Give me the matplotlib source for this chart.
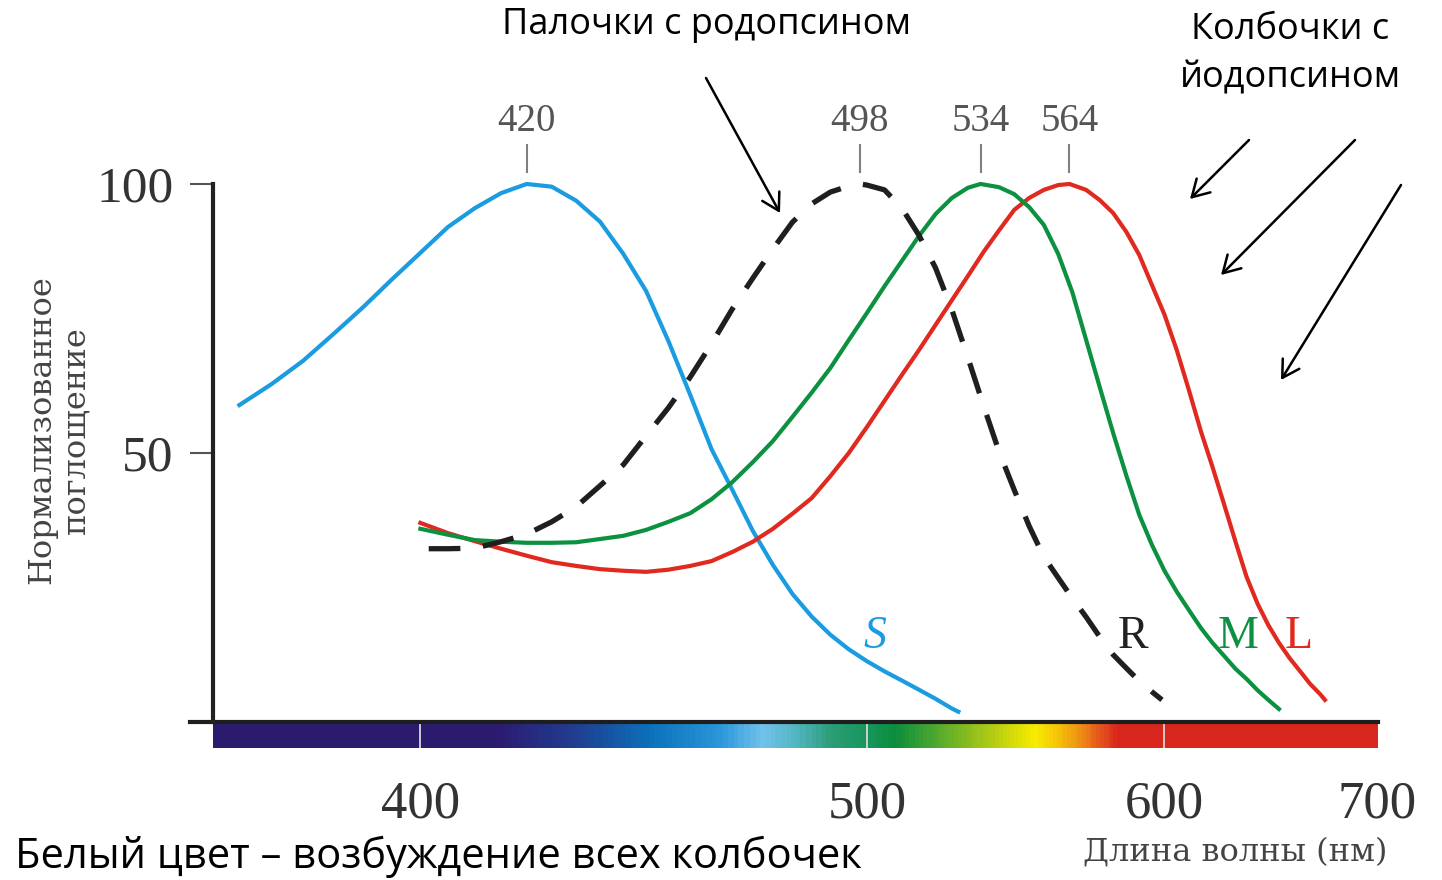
import numpy as np
import matplotlib
matplotlib.use("Agg")
import matplotlib.pyplot as plt
from matplotlib.colors import LinearSegmentedColormap, Normalize

# absorption spectra (wavelength nm, normalised absorbance)
S_wl = [370, 375, 380, 385, 390, 395, 400, 405, 410, 415, 420, 425, 430, 435,
        440, 445, 450, 455, 460, 465, 470, 475, 480, 485, 490, 495, 500, 505,
        510, 515, 520, 525, 527]
S_val = [58.9, 62.8, 67.1, 72.1, 77.1, 82.3, 87.2, 92.0, 95.5, 98.3, 100, 99.5,
         96.9, 93.0, 87.0, 80.1, 70.8, 60.8, 50.7, 43.1, 35.5, 29.2, 23.8, 19.6,
         16.2, 13.5, 11.3, 9.4, 7.7, 6.0, 4.3, 2.5, 1.9]

M_wl = [400, 405, 410, 415, 420, 425, 430, 435, 440, 445, 450, 455, 460, 465,
        470, 475, 480, 485, 490, 495, 500, 505, 510, 515, 520, 525, 530, 534,
        540, 545, 550, 555, 560, 565, 570, 575, 580, 585, 590, 595, 600, 605,
        610, 615, 620, 625, 630, 635, 640, 645, 650]
M_val = [35.9, 34.8, 33.8, 33.5, 33.3, 33.3, 33.4, 34.0, 34.6, 35.7, 37.2, 38.8,
         41.4, 44.6, 48.3, 52.2, 56.7, 61.2, 65.8, 71.0, 76.0, 81.0, 85.7, 90.3,
         94.4, 97.4, 99.3, 100, 99.4, 98.1, 95.7, 92.4, 87.0, 79.9, 71.0, 62.2,
         53.7, 45.8, 38.5, 32.9, 28.1, 24.2, 20.8, 17.5, 14.7, 12.3, 9.9, 8.0,
         5.9, 4.1, 2.4]

L_wl = [400, 405, 410, 415, 420, 425, 430, 435, 440, 445, 450, 455, 460, 465,
        470, 475, 480, 485, 490, 495, 500, 505, 510, 515, 520, 525, 530, 535,
        540, 545, 550, 555, 560, 564, 570, 575, 580, 585, 590, 595, 600, 605,
        610, 615, 620, 625, 630, 635, 640, 645, 650, 655, 660, 665, 670, 672.5]
L_val = [37.0, 35.1, 33.6, 32.2, 30.9, 29.7, 29.0, 28.4, 28.1, 27.9, 28.3, 29.0,
         29.9, 31.6, 33.5, 35.9, 38.7, 41.6, 45.7, 50.0, 54.8, 59.7, 64.5, 69.1,
         73.8, 78.4, 82.9, 87.4, 91.4, 95.2, 97.4, 98.9, 99.8, 100, 98.9, 97.0,
         94.6, 91.1, 86.8, 81.2, 75.7, 69.1, 61.7, 54.1, 47.4, 40.5, 33.6, 27.0,
         22.0, 18.0, 14.7, 11.9, 9.5, 7.1, 5.2, 4.1]

R_wl = [401.5, 405, 410, 415, 420, 425, 430, 435, 440, 445, 450, 455, 460, 465,
        470, 475, 480, 485, 490, 495, 498, 500, 505, 510, 515, 520, 525, 530,
        535, 540, 545, 550, 555, 560, 565, 570, 575, 580, 585, 590, 595, 599]
R_val = [32.2, 32.2, 32.3, 33.5, 34.9, 37.2, 40.0, 43.9, 47.8, 53.2, 58.4, 64.1,
         70.3, 76.8, 82.5, 87.9, 92.9, 96.3, 98.5, 99.6, 100, 99.8, 98.9, 95.5,
         90.5, 84.4, 76.6, 67.7, 58.7, 50.2, 43.1, 36.4, 30.7, 26.8, 23.0, 19.5,
         15.8, 12.5, 10.0, 7.6, 5.6, 4.1]

peaks = [420, 498, 534, 564]
x_ticks = [400, 500, 600, 700]
y_ticks = [50, 100]

# visible spectrum strip under the axis
spec_wl = [366, 413, 430, 446, 462, 472, 482, 490, 500, 508, 522, 538, 552,
           560, 567, 575, 582, 700.5]
spec_colors = ["#2b1a6e", "#2b1a6e", "#1f3f92", "#0b72bb", "#2b97da", "#72c2ec",
               "#4db3b9", "#2a9d75", "#17965a", "#0b8d3c", "#5bad2c", "#b4cc12",
               "#f8ec00", "#f5c20a", "#ef9712", "#e4561b", "#d9261c", "#d9261c"]

W, H = 1442, 880
XMIN, XMAX = 366, 700.5

plt.rcParams['font.family'] = ['Liberation Serif', 'DejaVu Serif']

fig = plt.figure(figsize=(W / 100, H / 100), dpi=100)
ax = fig.add_axes([213 / W, 1 - 748.3 / H, 1165 / W, (748.3 - 151.7) / H])


def fwd(x):
    x = np.asarray(x, dtype=float)
    with np.errstate(divide='ignore', invalid='ignore'):
        return -1.0 / x


# wavelength axis is linear in wavenumber
ax.set_xscale('function', functions=(fwd, fwd))
ax.set_xlim(XMIN, XMAX)
ax.set_ylim(-4.9, 106)

# spectrum band
edges = 1.0 / np.linspace(1 / XMIN, 1 / XMAX, 600)
centers = 0.5 * (edges[:-1] + edges[1:])
cmap = LinearSegmentedColormap.from_list(
    'spec', [((w - XMIN) / (XMAX - XMIN), c) for w, c in zip(spec_wl, spec_colors)])
ax.pcolormesh(edges, [-4.85, -0.3], centers[np.newaxis, :], cmap=cmap,
              norm=Normalize(XMIN, XMAX), shading='flat')
ax.vlines(x_ticks[:-1], -4.85, -0.3, color='#d8d8d8', lw=1.3)
ax.axhline(0, xmin=-0.0197, xmax=1, color='#1e1e1e', lw=3, clip_on=False)

# curves
blue, green, red = '#1b9be0', '#0b9140', '#e0291f'
ax.plot(S_wl, S_val, color=blue, lw=3, solid_joinstyle='round')
ax.plot(L_wl, L_val, color=red, lw=3, solid_joinstyle='round')
ax.plot(M_wl, M_val, color=green, lw=3, solid_joinstyle='round')
ax.plot(R_wl, R_val, color='#1f1f1f', lw=3.8, dashes=(6, 4.3))

# peak markers
for pk in peaks:
    ax.plot([pk, pk], [102.3, 107.2], color='#808080', lw=1.5, clip_on=False)
    ax.text(pk, 111.7, str(pk), ha='center', va='center', fontsize=28,
            color='#555555', clip_on=False)

# curve letters
ax.text(502.4, 15.8, 'S', color=blue, fontsize=33, style='italic', ha='center', va='center')
ax.text(587.7, 15.8, 'R', color='#222222', fontsize=33, ha='center', va='center')
ax.text(631.3, 15.8, 'M', color=green, fontsize=33, ha='center', va='center')
ax.text(659.3, 15.8, 'L', color=red, fontsize=33, ha='center', va='center')

# axes styling
for side in ['top', 'right', 'bottom']:
    ax.spines[side].set_visible(False)
ax.spines['left'].set_bounds(0, 100)
ax.spines['left'].set_linewidth(3)
ax.spines['left'].set_color('#222222')
ax.set_yticks(y_ticks)
ax.set_yticklabels([str(v) for v in y_ticks])
ax.set_xticks(x_ticks)
ax.set_xticklabels([str(v) for v in x_ticks])
ax.xaxis.set_minor_locator(matplotlib.ticker.NullLocator())
ax.tick_params(axis='y', length=16.5, width=1.5, color='#555555', pad=12,
               labelsize=37, labelcolor='#333333')
ax.tick_params(axis='x', length=0, pad=23, labelsize=38, labelcolor='#333333')

fig.text(1235 / W, 1 - 852 / H, 'Длина волны (нм)', ha='center', va='center',
         fontsize=23, family='DejaVu Serif', color='#444444')
fig.text(59 / W, 1 - 430 / H, 'Нормализованное\nпоглощение', rotation=90,
         ha='center', va='center', multialignment='center', fontsize=23,
         family='DejaVu Serif', color='#444444', linespacing=1.15)

# slide annotations
sans = ['Open Sans', 'DejaVu Sans']
fig.text(707 / W, 1 - 25 / H, 'Палочки с родопсином', ha='center', va='center',
         fontsize=26, family=sans)
fig.text(1290 / W, 1 - 54 / H, 'Колбочки с\nйодопсином', ha='center', va='center',
         multialignment='center', fontsize=26, family=sans, linespacing=1.45)
fig.text(15 / W, 1 - 857 / H, 'Белый цвет – возбуждение всех колбочек', ha='left',
         va='center', fontsize=30, family=sans)

arrows = [(706, 78, 780, 213), (1249, 140, 1190, 199),
          (1355, 140, 1221, 275), (1401, 185, 1281, 380)]
for x0, y0, x1, y1 in arrows:
    ax.annotate('', xy=(x1 / W, 1 - y1 / H), xycoords='figure fraction',
                xytext=(x0 / W, 1 - y0 / H), textcoords='figure fraction',
                arrowprops=dict(arrowstyle='->,head_length=0.6,head_width=0.35',
                                lw=1.8, color='black', mutation_scale=20,
                                shrinkA=0, shrinkB=0),
                annotation_clip=False)

fig.savefig('out.png', dpi=100)
